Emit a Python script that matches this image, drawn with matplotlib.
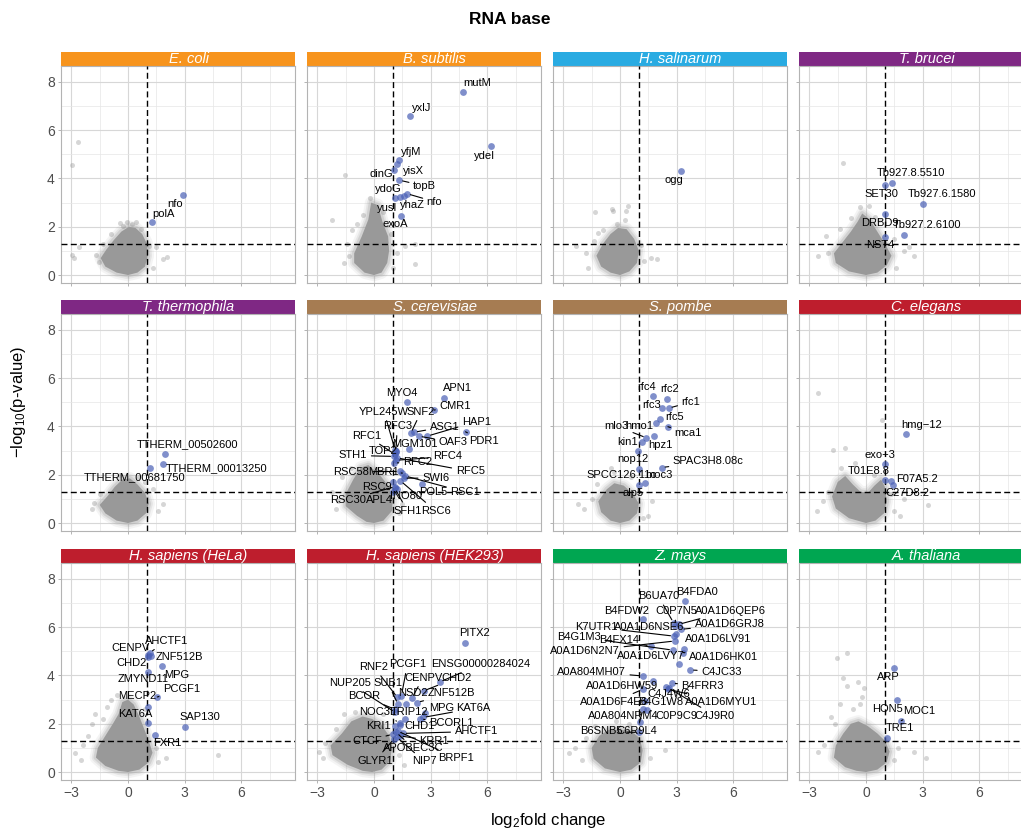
import math
import matplotlib
matplotlib.use("Agg")
import matplotlib.pyplot as plt
from matplotlib.patches import Rectangle

plt.rcParams["font.family"] = ["Liberation Sans", "DejaVu Sans"]

# ---------------------------------------------------------------- data
SPECIES = ["E. coli", "B. subtilis", "H. salinarum", "T. brucei",
           "T. thermophila", "S. cerevisiae", "S. pombe", "C. elegans",
           "H. sapiens (HeLa)", "H. sapiens (HEK293)", "Z. mays", "A. thaliana"]
STRIP_COLORS = ["#F7941D", "#F7941D", "#29ABE2", "#7F2884",
                "#7F2884", "#A67C52", "#A67C52", "#BE1E2D",
                "#BE1E2D", "#BE1E2D", "#00A651", "#00A651"]

FC_CUTOFF = 1.0
P_CUTOFF = 1.3  # -log10(0.05)

# enriched proteins (log2 fold change, -log10 p)
ECOLI_GENE = ["polA", "nfo"]
ECOLI_FC = [1.29, 2.89]
ECOLI_P = [2.19, 3.33]

BSUB_GENE = ["mutM", "yxlJ", "ydeI", "yfjM", "yisX", "dinG", "topB", "ydoG",
             "yusI", "yhaZ", "nfo", "exoA"]
BSUB_FC = [4.73, 1.89, 6.21, 1.34, 1.22, 1.06, 1.34, 1.10, 1.40, 1.59, 1.75, 1.43]
BSUB_P = [7.57, 6.57, 5.35, 4.76, 4.58, 4.37, 3.93, 3.18, 3.25, 3.28, 3.37, 2.46]

HSAL_GENE = ["ogg"]
HSAL_FC = [3.25]
HSAL_P = [4.32]

TBRU_GENE = ["Tb927.8.5510", "SET30", "Tb927.6.1580", "DRBD9", "Tb927.2.6100", "NST4"]
TBRU_FC = [1.36, 1.03, 3.02, 1.03, 2.00, 1.00]
TBRU_P = [3.83, 3.71, 2.96, 2.53, 1.65, 1.59]

TTHE_GENE = ["TTHERM_00502600", "TTHERM_00013250", "TTHERM_00681750"]
TTHE_FC = [1.94, 1.87, 1.18]
TTHE_P = [2.85, 2.43, 2.26]

SCER_GENE = ["APN1", "CMR1", "MYO4", "PDR1", "HAP1", "ASG1", "OAF3", "MGM101",
             "YPL245W", "SNF2", "RFC3", "RFC1", "TOP2", "STH1", "RFC4", "RFC2",
             "RFC5", "RSC58", "MBR1", "SWI6", "RSC9", "POL5", "RSC1", "RSC30",
             "APL4", "INO80", "SFH1", "RSC6"]
SCER_FC = [3.70, 3.19, 1.75, 4.85, 2.82, 2.12, 2.37, 1.87, 1.12, 1.95, 1.15, 1.10,
           1.18, 1.06, 1.18, 1.06, 1.22, 1.36, 1.50, 1.57, 1.00, 2.54, 1.65, 1.13,
           1.00, 1.20, 1.10, 1.40]
SCER_P = [5.17, 4.68, 5.00, 3.78, 3.60, 3.76, 3.60, 3.08, 3.02, 3.72, 2.95, 2.85,
          2.97, 2.76, 2.60, 2.49, 2.70, 2.14, 2.07, 1.86, 1.72, 1.63, 1.95, 1.51,
          1.30, 1.40, 1.45, 1.75]

SPOM_GENE = ["rfc4", "rfc2", "rfc3", "rfc1", "rfc5", "hmo1", "mca1", "hpz1", "mlo3",
             "kin1", "nop12", "SPAC3H8.08c", "SPCC126.11c", "moc3", "alp5"]
SPOM_FC = [1.77, 2.51, 2.21, 2.58, 2.10, 1.92, 2.54, 1.80, 1.40, 1.15, 0.97, 2.21,
           1.01, 1.30, 0.99]
SPOM_P = [5.25, 5.15, 4.76, 4.76, 4.32, 4.14, 3.99, 3.60, 3.53, 3.36, 2.97, 2.30,
          2.24, 1.65, 1.58]

CELE_GENE = ["hmg\u221212", "exo\u22123", "T01E8.8", "F07A5.2", "C27D8.2"]
CELE_FC = [2.14, 1.03, 0.99, 1.31, 1.43]
CELE_P = [3.69, 2.46, 1.79, 1.75, 1.58]

HELA_GENE = ["AHCTF1", "CENPV", "ZNF512B", "CHD2", "MPG", "ZMYND11", "PCGF1",
             "MECP2", "KAT6A", "SAP130", "FXR1"]
HELA_FC = [1.15, 1.06, 1.20, 1.08, 1.80, 1.04, 1.56, 1.04, 1.04, 3.02, 1.45]
HELA_P = [4.94, 4.83, 4.80, 4.75, 4.38, 4.15, 3.11, 2.69, 2.02, 1.87, 1.54]

HEK_GENE = ["PITX2", "ENSG00000284024", "CHD2", "CENPV", "PCGF1", "RNF2", "SUB1",
            "NSD2", "ZNF512B", "NUP205", "BCOR", "MPG", "KAT6A", "NOC3L", "TRIP12",
            "BCORL1", "KRI1", "CHD1", "AHCTF1", "CTCF", "KRR1", "APOBEC3C", "BRPF1",
            "NIP7", "GLYR1"]
HEK_FC = [4.83, 3.48, 2.63, 2.00, 1.45, 1.24, 1.27, 1.71, 2.28, 1.13, 1.10, 2.68,
          2.59, 1.36, 1.62, 2.45, 1.10, 1.40, 1.53, 1.00, 1.36, 1.18, 1.25, 1.20, 1.05]
HEK_P = [5.34, 3.73, 3.36, 3.05, 3.15, 3.09, 2.81, 2.81, 2.88, 2.47, 2.60, 2.44,
         2.26, 2.05, 2.19, 2.20, 1.91, 1.95, 1.60, 1.57, 1.50, 1.64, 1.70, 1.45, 1.36]

ZMAY_GENE = ["B4FDA0", "B4FDW2", "B6UA70", "C0P7N5", "A0A1D6QEP6", "A0A1D6GRJ8",
             "K7UTR1", "A0A1D6NSE6", "B4G1M3", "A0A1D6LV91", "B4FX14", "A0A1D6N2N7",
             "A0A1D6LVY7", "A0A1D6HK01", "C4JC33", "A0A804MH07", "B4FRR3",
             "A0A1D6HW59", "C4J4W6", "A0A1D6MYU1", "A0A1D6F4E6", "B4G1W8",
             "A0A804NRM4", "C0P9C9", "C4J9R0", "B6SNB5", "C6R9L4"]
ZMAY_FC = [3.46, 1.22, 2.84, 2.90, 3.12, 3.21, 2.86, 2.95, 2.80, 3.41, 1.62, 2.91,
           3.11, 3.35, 3.72, 1.20, 2.75, 1.75, 2.45, 2.54, 1.22, 1.31, 1.08, 1.43,
           2.58, 1.00, 1.22]
ZMAY_P = [7.08, 6.35, 6.18, 6.05, 6.12, 5.91, 5.63, 5.70, 5.05, 5.11, 5.22, 5.43,
          4.49, 4.95, 4.23, 3.98, 3.68, 3.77, 3.53, 3.43, 3.43, 2.95, 2.08, 2.57,
          3.48, 1.64, 2.60]

ATHA_GENE = ["ARP", "HON5", "MOC1", "TRE1"]
ATHA_FC = [1.50, 1.66, 1.87, 1.10]
ATHA_P = [4.31, 2.98, 2.13, 1.39]

# background proteome: outline of the dense cloud and scattered proteins
ECOLI_CORE_FC = [0.0, 0.5, 0.9, 1.05, 1.0, 0.75, 0.4, 0.05, -0.35, -0.75, -1.15, -1.45, -1.2, -0.6]
ECOLI_CORE_P = [0.0, 0.1, 0.35, 0.8, 1.3, 1.7, 1.95, 2.0, 1.8, 1.45, 1.05, 0.7, 0.35, 0.1]
ECOLI_BG_FC = [-2.65, -2.98, -2.95, -2.85, -2.6, 1.85, 2.05, 1.5, 0.4, -0.05, -0.45,
               -1.7, -1.55, 1.35, 1.1, -1.35, -0.9, 0.7, 0.2, -0.25]
ECOLI_BG_P = [5.53, 4.56, 0.85, 0.7, 1.15, 0.65, 0.75, 1.15, 2.2, 2.2, 2.15,
              0.85, 0.55, 0.3, 1.2, 1.3, 1.7, 1.9, 2.1, 2.05]

BSUB_CORE_FC = [0.0, 0.4, 0.7, 0.8, 0.75, 0.45, 0.2, -0.15, -0.3, -0.65, -1.05, -1.05, -0.5]
BSUB_CORE_P = [0.0, 0.1, 0.5, 1.0, 1.6, 2.2, 2.9, 3.0, 2.3, 1.6, 0.9, 0.5, 0.1]
BSUB_BG_FC = [-1.51, -2.25, 1.62, 2.15, 2.15, -0.23, -1.45, -1.3, -1.15, 0.9, 1.2,
              -0.6, 0.5, -1.6, 1.0, -0.9]
BSUB_BG_P = [4.15, 2.28, 1.22, 1.29, 0.46, 3.18, 1.3, 0.8, 1.85, 1.7, 0.9,
             2.5, 2.6, 0.5, 0.3, 2.1]

HSAL_CORE_FC = [0.0, 0.5, 0.9, 1.0, 0.75, 0.35, -0.1, -0.5, -0.9, -1.25, -1.0, -0.5]
HSAL_CORE_P = [0.0, 0.15, 0.5, 1.0, 1.5, 1.9, 1.95, 1.7, 1.3, 0.8, 0.35, 0.1]
HSAL_BG_FC = [-1.34, -0.37, -0.45, 0.42, 0.3, 0.28, -0.14, -1.16, -2.31, -1.82, -1.69,
              1.66, 1.28, 1.95, -1.4, 1.1, -0.9]
HSAL_BG_P = [2.63, 2.67, 2.75, 2.86, 2.66, 2.28, 2.12, 1.76, 1.2, 0.93, 0.3,
             0.72, 0.6, 0.68, 1.4, 1.25, 1.85]

TBRU_CORE_FC = [0.0, 0.6, 1.1, 1.35, 1.0, 0.6, 0.2, -0.2, -0.45, -0.8, -1.2, -1.7, -1.6, -0.9]
TBRU_CORE_P = [0.0, 0.1, 0.4, 0.8, 1.3, 1.8, 2.3, 2.55, 2.2, 1.8, 1.4, 0.9, 0.5, 0.15]
TBRU_BG_FC = [-1.21, -0.3, 0.15, 0.5, -2.1, -2.54, 2.54, 2.0, 1.6, -2.0, 2.3, -0.8,
              1.5, -1.4, 0.7]
TBRU_BG_P = [4.63, 2.8, 2.85, 2.4, 1.6, 0.8, 0.8, 1.0, 0.3, 0.9, 1.15, 2.35,
             1.5, 1.9, 2.3]

TTHE_CORE_FC = [0.0, 0.5, 0.95, 1.1, 0.9, 0.5, 0.1, -0.3, -0.7, -1.1, -1.5, -1.2, -0.6]
TTHE_CORE_P = [0.0, 0.1, 0.4, 0.8, 1.25, 1.6, 1.85, 1.8, 1.5, 1.1, 0.75, 0.4, 0.1]
TTHE_BG_FC = [1.85, -1.8, 1.6, -0.4, 0.6, 1.3, -1.5, -1.9, 0.9]
TTHE_BG_P = [0.8, 0.85, 0.5, 2.0, 1.9, 1.4, 1.2, 0.6, 1.7]

SCER_CORE_FC = [0.0, 0.5, 0.95, 1.0, 0.8, 0.3, -0.3, -0.7, -1.1, -1.5, -1.5, -0.9, -0.4]
SCER_CORE_P = [0.0, 0.1, 0.5, 1.0, 1.5, 2.0, 2.4, 2.3, 1.8, 1.2, 0.7, 0.3, 0.05]
SCER_BG_FC = [-1.9, -1.7, -1.2, 1.5, 1.3, -2.2, -2.0, 0.6]
SCER_BG_P = [0.9, 1.9, 2.3, 0.8, 0.4, 1.3, 0.6, 2.2]

SPOM_CORE_FC = [0.0, 0.5, 0.9, 1.0, 0.7, 0.2, -0.3, -0.7, -1.15, -1.0, -0.5]
SPOM_CORE_P = [0.0, 0.1, 0.4, 0.8, 1.2, 1.55, 1.65, 1.4, 0.9, 0.45, 0.1]
SPOM_BG_FC = [-0.5, -0.3, -1.9, 1.5, 1.7, -1.5, 0.6, -1.2, 1.2, -2.2]
SPOM_BG_P = [2.3, 2.1, 0.6, 0.3, 0.9, 1.0, 1.9, 1.6, 0.2, 0.8]

CELE_CORE_FC = [0.0, 0.5, 0.95, 1.1, 1.0, 0.8, 0.45, 0.1, -0.3, -0.7, -1.1, -1.5, -1.8, -1.6, -0.9]
CELE_CORE_P = [0.0, 0.1, 0.4, 0.9, 1.5, 1.8, 1.55, 1.25, 1.3, 1.6, 1.95, 1.7, 1.1, 0.6, 0.2]
CELE_BG_FC = [-2.54, 0.85, -1.13, -1.74, -0.6, 3.28, 2.0, -2.3, -2.0, 1.5, 1.3, -1.3,
              0.4, 1.8, -2.6]
CELE_BG_P = [5.4, 4.26, 3.11, 3.04, 2.5, 0.75, 1.0, 0.9, 1.3, 0.5, 1.2, 2.3,
             2.0, 0.3, 0.5]

HELA_CORE_FC = [0.0, 0.6, 1.1, 1.3, 1.1, 0.85, 0.6, 0.3, 0.0, -0.3, -0.5, -0.8, -1.2,
                -1.6, -1.7, -1.2, -0.5]
HELA_CORE_P = [0.0, 0.1, 0.4, 0.8, 1.3, 1.8, 2.3, 2.8, 3.0, 2.9, 2.4, 2.0, 1.5,
               1.0, 0.6, 0.25, 0.05]
HELA_BG_FC = [-1.76, -1.32, 4.77, -2.82, -0.88, -0.6, -2.4, -2.1, 1.5, 2.0, -1.9, 1.6,
              -2.5, 0.9, -1.1]
HELA_BG_P = [2.4, 2.2, 0.7, 0.8, 3.0, 3.2, 1.1, 1.5, 1.0, 0.6, 2.0, 0.4,
             0.5, 2.6, 2.7]

HEK_CORE_FC = [-0.1, 0.4, 0.85, 0.95, 0.8, 0.4, -0.1, -0.6, -1.2, -1.7, -2.3, -2.2, -1.4, -0.6]
HEK_CORE_P = [0.0, 0.1, 0.45, 1.0, 1.5, 1.95, 2.2, 2.3, 2.1, 1.6, 1.1, 0.7, 0.3, 0.05]
HEK_BG_FC = [-2.9, -2.6, -1.6, -1.0, 1.3, 1.6, -2.0, 0.5, -2.7]
HEK_BG_P = [0.81, 1.2, 2.4, 2.5, 0.7, 0.3, 1.8, 2.4, 0.6]

ZMAY_CORE_FC = [0.0, 0.6, 1.1, 1.2, 1.05, 0.6, 0.0, -0.6, -1.1, -1.5, -1.4, -0.8]
ZMAY_CORE_P = [0.0, 0.1, 0.4, 0.9, 1.4, 1.7, 1.75, 1.75, 1.5, 1.0, 0.55, 0.15]
ZMAY_BG_FC = [-2.7, -2.4, -1.8, 1.6, 2.4, -1.3, 0.5, -0.2, -2.0]
ZMAY_BG_P = [0.8, 1.0, 1.4, 0.6, 0.9, 1.9, 2.0, 2.1, 0.5]

ATHA_CORE_FC = [0.0, 0.6, 1.1, 1.25, 1.0, 0.6, 0.1, -0.4, -0.8, -1.2, -1.6, -1.7, -1.1, -0.5]
ATHA_CORE_P = [0.0, 0.1, 0.4, 0.85, 1.3, 1.6, 1.9, 2.1, 2.0, 1.6, 1.1, 0.6, 0.2, 0.05]
ATHA_BG_FC = [-1.55, -1.02, -1.2, -1.0, -0.43, -0.1, -0.2, -1.83, -1.65, 3.2, 2.57,
              -2.54, -2.2, -0.7, -0.3, 1.5, 1.7, -1.4]
ATHA_BG_P = [4.74, 4.95, 3.9, 3.55, 3.75, 3.5, 3.1, 2.3, 2.0, 0.6, 0.85,
             0.85, 1.1, 2.6, 2.8, 0.5, 1.0, 2.8]

# ---------------------------------------------------------------- label layout
LABEL_XY = {
    "E. coli": [(1.9, 2.53), (2.5, 2.95)],
    "B. subtilis": [(5.47, 7.95), (2.51, 6.94), (5.86, 4.95), (1.98, 5.09), (2.1, 4.29),
                    (0.39, 4.18), (2.68, 3.69), (0.74, 3.57), (0.72, 2.79), (2.06, 2.9),
                    (3.21, 3.04), (1.1, 2.1)],
    "H. salinarum": [(2.86, 3.94)],
    "T. brucei": [(2.36, 4.22), (0.8, 3.35), (4.02, 3.35), (0.72, 2.17), (3.25, 2.06),
                  (0.73, 1.24)],
    "T. thermophila": [(3.17, 3.25), (4.68, 2.28), (0.35, 1.9)],
    "S. cerevisiae": [(4.41, 5.58), (4.3, 4.85), (1.48, 5.40), (5.8, 3.39), (5.43, 4.2),
                      (3.74, 3.99), (4.18, 3.35), (2.15, 3.28), (0.53, 4.62), (2.5, 4.62),
                      (1.24, 4.0), (-0.39, 3.62), (0.48, 3.0), (-1.11, 2.8), (3.88, 2.76),
                      (2.3, 2.51), (5.1, 2.14), (-1.2, 2.12), (0.48, 2.12), (3.27, 1.86),
                      (0.13, 1.51), (3.12, 1.28), (4.84, 1.28), (-1.36, 0.96), (0.31, 0.96),
                      (1.71, 1.1), (1.77, 0.5), (3.27, 0.5)],
    "S. pombe": [(1.41, 5.64), (2.61, 5.54), (1.66, 4.88), (3.76, 5.01), (2.91, 4.40),
                 (1.03, 4.01), (3.62, 3.74), (2.14, 3.22), (-0.17, 4.01), (0.41, 3.35),
                 (0.71, 2.65), (4.68, 2.55), (0.07, 1.97), (2.08, 1.97), (0.7, 1.24)],
    "C. elegans": [(2.93, 4.05), (0.72, 2.83), (0.14, 2.14), (2.72, 1.83), (2.19, 1.24)],
    "H. sapiens (HeLa)": [(2.03, 5.43), (0.13, 5.15), (2.74, 4.78), (0.2, 4.5), (2.56, 4.02),
                          (0.81, 3.84), (2.84, 3.43), (0.51, 3.15), (0.37, 2.4), (3.81, 2.26),
                          (2.07, 1.2)],
    "H. sapiens (HEK293)": [(5.33, 5.74), (5.65, 4.46), (4.4, 3.91), (2.6, 3.91), (1.77, 4.46),
                            (0.0, 4.35), (0.74, 3.68), (2.06, 3.26), (4.1, 3.26), (-1.29, 3.68),
                            (-0.54, 3.13), (3.57, 2.64), (5.28, 2.64), (0.21, 2.47), (1.88, 2.47),
                            (4.1, 2.05), (0.21, 1.89), (2.4, 1.89), (5.42, 1.68), (-0.37, 1.28),
                            (3.2, 1.28), (2.1, 0.99), (4.36, 0.58), (2.67, 0.44), (0.05, 0.47)],
    "Z. mays": [(4.1, 7.47), (0.35, 6.67), (2.03, 7.29), (3.0, 6.67), (5.84, 6.69),
                (5.8, 6.12), (-1.25, 6.0), (1.57, 6.0), (-2.17, 5.6), (5.22, 5.5),
                (-0.02, 5.45), (-1.85, 5.01), (1.64, 4.81), (5.49, 4.78), (5.38, 4.16),
                (-1.51, 4.16), (4.39, 3.57), (0.12, 3.57), (2.58, 3.22), (5.38, 2.91),
                (-0.33, 2.91), (2.17, 2.91), (0.2, 2.33), (3.0, 2.33), (5.03, 2.33),
                (-0.99, 1.68), (0.9, 1.68)],
    "A. thaliana": [(1.16, 3.95), (1.16, 2.63), (2.84, 2.51), (1.78, 1.82)],
}

PANELS = [
    (ECOLI_GENE, ECOLI_FC, ECOLI_P, ECOLI_CORE_FC, ECOLI_CORE_P, ECOLI_BG_FC, ECOLI_BG_P),
    (BSUB_GENE, BSUB_FC, BSUB_P, BSUB_CORE_FC, BSUB_CORE_P, BSUB_BG_FC, BSUB_BG_P),
    (HSAL_GENE, HSAL_FC, HSAL_P, HSAL_CORE_FC, HSAL_CORE_P, HSAL_BG_FC, HSAL_BG_P),
    (TBRU_GENE, TBRU_FC, TBRU_P, TBRU_CORE_FC, TBRU_CORE_P, TBRU_BG_FC, TBRU_BG_P),
    (TTHE_GENE, TTHE_FC, TTHE_P, TTHE_CORE_FC, TTHE_CORE_P, TTHE_BG_FC, TTHE_BG_P),
    (SCER_GENE, SCER_FC, SCER_P, SCER_CORE_FC, SCER_CORE_P, SCER_BG_FC, SCER_BG_P),
    (SPOM_GENE, SPOM_FC, SPOM_P, SPOM_CORE_FC, SPOM_CORE_P, SPOM_BG_FC, SPOM_BG_P),
    (CELE_GENE, CELE_FC, CELE_P, CELE_CORE_FC, CELE_CORE_P, CELE_BG_FC, CELE_BG_P),
    (HELA_GENE, HELA_FC, HELA_P, HELA_CORE_FC, HELA_CORE_P, HELA_BG_FC, HELA_BG_P),
    (HEK_GENE, HEK_FC, HEK_P, HEK_CORE_FC, HEK_CORE_P, HEK_BG_FC, HEK_BG_P),
    (ZMAY_GENE, ZMAY_FC, ZMAY_P, ZMAY_CORE_FC, ZMAY_CORE_P, ZMAY_BG_FC, ZMAY_BG_P),
    (ATHA_GENE, ATHA_FC, ATHA_P, ATHA_CORE_FC, ATHA_CORE_P, ATHA_BG_FC, ATHA_BG_P),
]

# ---------------------------------------------------------------- figure
W, H = 1021, 830
fig = plt.figure(figsize=(W / 100, H / 100), dpi=100)
fig.patch.set_facecolor("white")

XLIM = (-3.55, 8.85)
YLIM = (-0.33, 8.66)
PANEL_W, PANEL_H, STRIP_H = 234, 217, 14
LEFTS = [61, 307, 553, 799]
TOPS = [66, 314, 563]

HIT_COLOR = "#4a60b6"
BG_COLOR = "#8c8c8c"
CORE_COLOR = "#999999"
GRID_MAJOR = "#d7d7d7"
GRID_MINOR = "#e6e6e6"
FRAME = "#b3b3b3"

for i, (genes, fc, lp, core_fc, core_p, bg_fc, bg_p) in enumerate(PANELS):
    r, c = divmod(i, 4)
    left, top = LEFTS[c], TOPS[r]
    ax = fig.add_axes([left / W, 1 - (top + PANEL_H) / H, PANEL_W / W, PANEL_H / H])
    ax.set_xlim(*XLIM)
    ax.set_ylim(*YLIM)
    ax.set_facecolor("white")

    ax.set_xticks([-3, 0, 3, 6])
    ax.set_xticks([-1.5, 1.5, 4.5, 7.5], minor=True)
    ax.set_yticks([0, 2, 4, 6, 8])
    ax.set_yticks([1, 3, 5, 7], minor=True)
    ax.grid(which="major", color=GRID_MAJOR, lw=0.8, zorder=0)
    ax.grid(which="minor", color=GRID_MINOR, lw=0.5, zorder=0)
    ax.set_axisbelow(True)
    for s in ax.spines.values():
        s.set_color(FRAME)
        s.set_linewidth(0.8)
    ax.tick_params(which="major", length=2.5, width=0.7, color=FRAME,
                   labelsize=10, labelcolor="#4d4d4d", pad=2)
    ax.tick_params(which="minor", length=0)
    if c != 0:
        ax.tick_params(labelleft=False)
    else:
        ax.set_yticklabels(["0", "2", "4", "6", "8"])
    if r != 2:
        ax.tick_params(labelbottom=False)
    else:
        ax.set_xticklabels(["\u22123", "0", "3", "6"])

    # strip with species name
    ax.add_patch(Rectangle((0, 1), 1, STRIP_H / PANEL_H, transform=ax.transAxes,
                           facecolor=STRIP_COLORS[i], edgecolor="none", clip_on=False))
    ax.text(0.545, 1 + STRIP_H / PANEL_H / 2, SPECIES[i], transform=ax.transAxes,
            ha="center", va="center", color="white", style="italic", fontsize=10.5)

    # background proteome: soft fringe, dense cloud, scattered proteins
    for lw, a in ((9, 0.10), (6, 0.16), (3.5, 0.25)):
        ax.fill(core_fc, core_p, facecolor="none", edgecolor=CORE_COLOR, lw=lw,
                alpha=a, zorder=1.8, joinstyle="round")
    ax.fill(core_fc, core_p, facecolor=CORE_COLOR, edgecolor="none", zorder=2)
    ax.scatter(bg_fc, bg_p, s=13, color=BG_COLOR, alpha=0.35, lw=0, zorder=2.1)

    # significance thresholds
    ax.axvline(FC_CUTOFF, color="black", lw=1.0, ls=(0, (4.3, 2.4)), zorder=3)
    ax.axhline(P_CUTOFF, color="black", lw=1.0, ls=(0, (4.3, 2.4)), zorder=3)

    # enriched proteins
    ax.scatter(fc, lp, s=24, color=HIT_COLOR, alpha=0.7, lw=0, zorder=4)

    sx = PANEL_W / (XLIM[1] - XLIM[0])
    sy = PANEL_H / (YLIM[1] - YLIM[0])
    for g, x, y, (lx, ly) in zip(genes, fc, lp, LABEL_XY[SPECIES[i]]):
        half_w = 3.3 * len(g)
        gx = max(0.0, abs(lx - x) * sx - half_w)
        gy = max(0.0, abs(ly - y) * sy - 5.5)
        props = None
        if math.hypot(gx, gy) > 6:
            props = dict(arrowstyle="-", color="black", lw=0.8, shrinkA=1, shrinkB=2.5)
        ax.annotate(g, xy=(x, y), xytext=(lx, ly), textcoords="data",
                    ha="center", va="center", fontsize=8, color="black",
                    zorder=5, arrowprops=props, annotation_clip=False)

fig.text(510 / W, 1 - 20 / H, "RNA base", ha="center", va="center",
         fontsize=12.5, fontweight="bold")
fig.text(548 / W, 1 - 820 / H, r"$\mathregular{log_2}$fold change", ha="center",
         va="center", fontsize=12)
fig.text(18 / W, 1 - 402 / H, r"$\mathregular{-log_{10}}$(p-value)", ha="center",
         va="center", rotation=90, fontsize=12)

fig.savefig("out.png", dpi=100)
